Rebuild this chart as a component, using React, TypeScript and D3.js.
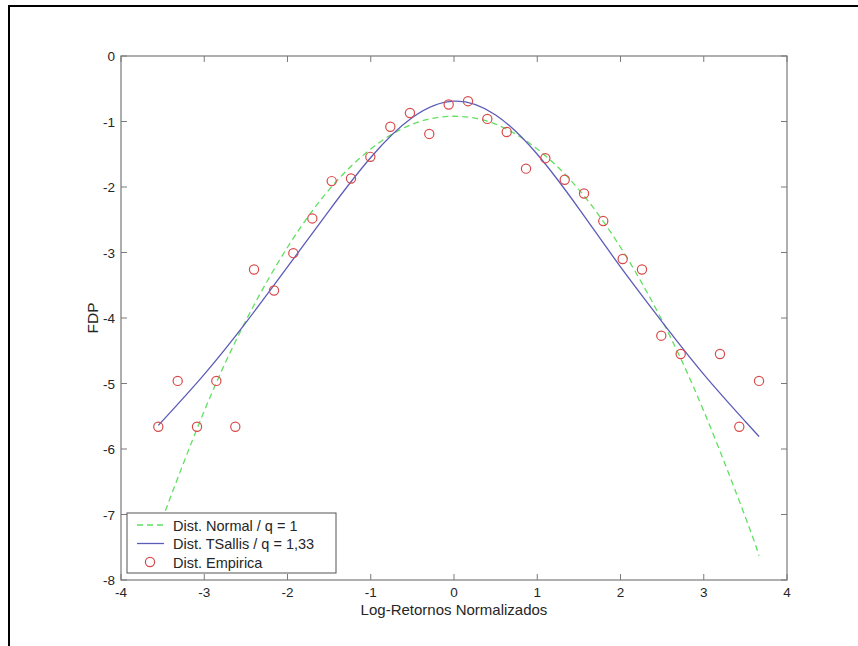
import React from "react";
import * as d3 from "d3";

// Empirical points (x, ln density)
const empX = [-3.552, -3.319, -3.087, -2.855, -2.627, -2.402, -2.162, -1.93, -1.702, -1.469, -1.237, -1.005, -0.765, -0.529, -0.297, -0.064, 0.168, 0.4, 0.633, 0.865, 1.097, 1.33, 1.562, 1.793, 2.026, 2.258, 2.49, 2.723, 3.195, 3.427, 3.664];
const empY = [-5.66, -4.96, -5.66, -4.96, -5.66, -3.26, -3.58, -3.01, -2.48, -1.91, -1.87, -1.54, -1.08, -0.87, -1.19, -0.74, -0.69, -0.96, -1.16, -1.72, -1.56, -1.89, -2.1, -2.52, -3.1, -3.26, -4.27, -4.55, -4.55, -5.66, -4.96];

// Fitted curves
const curveX = [-3.552, -3.0, -2.5, -2.0, -1.5, -1.0, -0.5, 0.0, 0.5, 1.0, 1.5, 2.0, 2.5, 3.0, 3.5, 3.664];
const normalY = [-7.23, -5.42, -4.04, -2.92, -2.04, -1.42, -1.04, -0.92, -1.04, -1.42, -2.04, -2.92, -4.04, -5.42, -7.04, -7.63];
const tsallisY = [-5.64, -4.86, -4.07, -3.22, -2.36, -1.55, -0.94, -0.69, -0.9, -1.5, -2.33, -3.22, -4.06, -4.86, -5.58, -5.81];

const xTicks = [-4, -3, -2, -1, 0, 1, 2, 3, 4];
const yTicks = [0, -1, -2, -3, -4, -5, -6, -7, -8];

const legendLabels = ["Dist. Normal / q = 1", "Dist. TSallis / q = 1,33", "Dist. Empirica"];

export default function App() {
  const W = 858, H = 646;
  const left = 121, right = 787, top = 56, bottom = 580;
  const x = d3.scaleLinear().domain([-4, 4]).range([left, right]);
  const y = d3.scaleLinear().domain([-8, 0]).range([bottom, top]);
  const font = "Arial, 'Liberation Sans', sans-serif";
  const axisColor = "#7a7a7a";
  const textColor = "#262626";
  const tickLen = 6;

  const normalPts: [number, number][] = curveX.map((v, i) => [v, normalY[i]]);
  const tsPts: [number, number][] = curveX.map((v, i) => [v, tsallisY[i]]);
  const line = d3
    .line<[number, number]>()
    .x((d) => x(d[0]))
    .y((d) => y(d[1]))
    .curve(d3.curveNatural);

  const green = "#5fe05f";
  const blue = "#5c5cb8";
  const red = "#d84a4a";

  const lg = { x0: 127, y0: 513, w: 209, h: 60 };
  const rows = [525, 543.5, 562];

  return (
    <svg
      width={W}
      height={H}
      style={{ position: "absolute", left: 0, top: 0, background: "#fff" }}
    >
      <rect x={0} y={0} width={W} height={H} fill="#fff" />
      {/* outer frame */}
      <path d={`M9,${H + 5} L9,6 L${W + 5},6`} fill="none" stroke="#000" strokeWidth={2} />

      <defs>
        <clipPath id="plotclip">
          <rect x={left} y={top} width={right - left} height={bottom - top} />
        </clipPath>
      </defs>

      {/* curves */}
      <g clipPath="url(#plotclip)">
        <path d={line(normalPts) || ""} fill="none" stroke={green} strokeWidth={1.3} strokeDasharray="6,4" />
        <path d={line(tsPts) || ""} fill="none" stroke={blue} strokeWidth={1.3} />
        {empX.map((v, i) => (
          <circle key={i} cx={x(v)} cy={y(empY[i])} r={4.6} fill="none" stroke={red} strokeWidth={1.2} />
        ))}
      </g>

      {/* axes box */}
      <rect x={left} y={top} width={right - left} height={bottom - top} fill="none" stroke={axisColor} strokeWidth={1.2} />
      {xTicks.map((t) => (
        <g key={"xt" + t}>
          <line x1={x(t)} x2={x(t)} y1={bottom} y2={bottom - tickLen} stroke={axisColor} />
          <line x1={x(t)} x2={x(t)} y1={top} y2={top + tickLen} stroke={axisColor} />
          <text x={x(t)} y={596.5} textAnchor="middle" fontFamily={font} fontSize={13.5} fill={textColor}>
            {t}
          </text>
        </g>
      ))}
      {yTicks.map((t) => (
        <g key={"yt" + t}>
          <line x1={left} x2={left + tickLen} y1={y(t)} y2={y(t)} stroke={axisColor} />
          <line x1={right} x2={right - tickLen} y1={y(t)} y2={y(t)} stroke={axisColor} />
          <text x={115} y={y(t) + 5} textAnchor="end" fontFamily={font} fontSize={13.5} fill={textColor}>
            {t}
          </text>
        </g>
      ))}

      {/* axis labels */}
      <text x={(left + right) / 2} y={614.5} textAnchor="middle" fontFamily={font} fontSize={15} fill={textColor}>
        Log-Retornos Normalizados
      </text>
      <text
        transform={`translate(98,${(top + bottom) / 2}) rotate(-90)`}
        textAnchor="middle"
        fontFamily={font}
        fontSize={15.5}
        fill={textColor}
      >
        FDP
      </text>

      {/* legend */}
      <rect x={lg.x0} y={lg.y0} width={lg.w} height={lg.h} fill="#fff" stroke="#555" strokeWidth={1} />
      <line x1={137} x2={164} y1={rows[0]} y2={rows[0]} stroke={green} strokeWidth={1.3} strokeDasharray="6,4" />
      <line x1={137} x2={164} y1={rows[1]} y2={rows[1]} stroke={blue} strokeWidth={1.3} />
      <circle cx={150} cy={rows[2]} r={4.6} fill="none" stroke={red} strokeWidth={1.2} />
      {legendLabels.map((l, i) => (
        <text key={l} x={173} y={rows[i] + 5.5} fontFamily={font} fontSize={14.5} fill={textColor}>
          {l}
        </text>
      ))}
    </svg>
  );
}
